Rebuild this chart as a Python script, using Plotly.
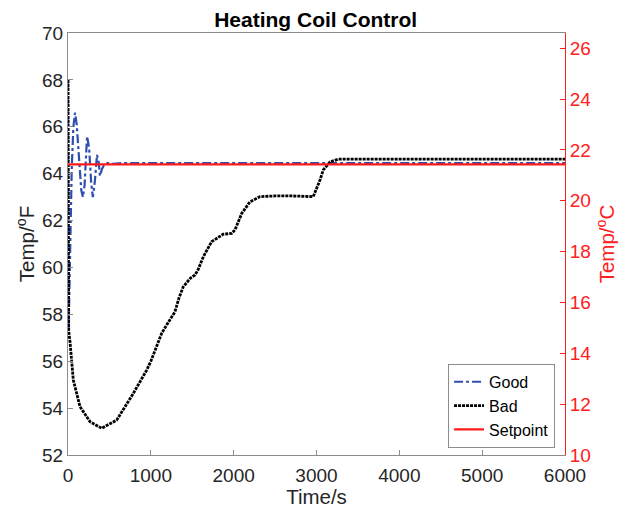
import plotly.graph_objects as go

# ---- data ----
good_t = [0, 8, 25, 45, 65, 85, 105, 130, 160, 180, 200, 230, 255, 280, 300, 325, 350, 370, 386,
          410, 440, 480, 550, 650, 800, 1000, 1500, 2000, 2500, 3000, 3500, 4000, 4500, 5000, 5500, 6000]
good_T = [68.0, 57.4, 60.5, 64.2, 66.0, 66.6, 66.1, 64.6, 63.3, 63.0, 63.5, 65.6, 65.1, 63.6, 63.0, 63.7, 64.8, 64.5, 63.9,
          64.2, 64.4, 64.45, 64.42, 64.45, 64.45, 64.45, 64.45, 64.45, 64.45, 64.45, 64.45, 64.45, 64.45, 64.45, 64.45, 64.45]

bad_t = [0, 8, 24, 64, 145, 266, 407, 588, 789, 950, 1000, 1131, 1200, 1252, 1290, 1340, 1392, 1480, 1533, 1570,
         1634, 1734, 1875, 1976, 2016, 2097, 2197, 2318, 2500, 2700, 2961, 3042, 3082, 3163, 3263,
         3500, 4000, 4500, 5000, 5500, 6000]
bad_T = [68.0, 57.3, 56.83, 55.2, 54.06, 53.42, 53.14, 53.49, 54.63, 55.62, 56.0, 57.19, 57.6, 57.9, 58.1, 58.7, 59.18, 59.55, 59.68, 59.9,
         60.46, 61.1, 61.42, 61.45, 61.6, 62.3, 62.8, 63.02, 63.05, 63.05, 63.02, 63.73, 64.16, 64.5, 64.62,
         64.62, 64.62, 64.62, 64.62, 64.62, 64.62]

set_t = [0, 6000]
set_T = [64.4, 64.4]

x_ticks = [0, 1000, 2000, 3000, 4000, 5000, 6000]
yF_ticks = [52, 54, 56, 58, 60, 62, 64, 66, 68, 70]
yC_ticks = [10, 12, 14, 16, 18, 20, 22, 24, 26]

FONT = "Liberation Sans, Arial, sans-serif"
GRAY = "#8c8c8c"
RED = "#ff2020"
TXT = "#262626"

fig = go.Figure()
fig.add_trace(go.Scatter(x=good_t, y=good_T, name="Good", mode="lines",
                         line=dict(color="#2f4fb0", width=2.2, dash="dashdot")))
fig.add_trace(go.Scatter(x=bad_t, y=bad_T, name="Bad", mode="lines",
                         line=dict(color="black", width=2.8, dash="3px,1px")))
fig.add_trace(go.Scatter(x=set_t, y=set_T, name="Setpoint", mode="lines",
                         line=dict(color="#ff1a1a", width=2.2)))
fig.add_trace(go.Scatter(x=[None], y=[None], yaxis="y2", showlegend=False, hoverinfo="skip"))

fig.update_layout(
    width=625, height=508,
    margin=dict(l=68, r=60, t=33, b=53),
    paper_bgcolor="white", plot_bgcolor="white",
    font=dict(family=FONT, size=19, color=TXT),
    showlegend=True,
    title=dict(text="<b>Heating Coil Control</b>", x=0.505, xanchor="center",
               yref="container", y=1 - 20 / 508, yanchor="middle",
               font=dict(size=21, color="black")),
    xaxis=dict(range=[0, 6000], tickvals=x_ticks, showgrid=False, zeroline=False,
               showline=True, linecolor=GRAY, linewidth=1, mirror=True, automargin=False,
               ticks="inside", ticklen=5, tickcolor=GRAY, ticklabelstandoff=3,
               title=dict(text="Time/s", standoff=2, font=dict(size=20.5, color=TXT)),
               tickfont=dict(size=19, color=TXT)),
    yaxis=dict(range=[52, 70], tickvals=yF_ticks, showgrid=False, zeroline=False,
               showline=True, linecolor=GRAY, linewidth=1, automargin=False,
               ticks="inside", ticklen=5, tickcolor=GRAY,
               title=dict(text="Temp/<sup>o</sup>F", standoff=1, font=dict(size=20.5, color=TXT)),
               tickfont=dict(size=19, color=TXT)),
    yaxis2=dict(range=[10, 26.6], tickvals=yC_ticks, overlaying="y", side="right",
                showgrid=False, zeroline=False, showline=True, linecolor=RED, linewidth=1,
                automargin=False, ticks="inside", ticklen=5, tickcolor=RED,
                tickfont=dict(size=19, color=RED),
                title=dict(text="Temp/<sup>o</sup>C", standoff=9, font=dict(size=20.5, color=RED))),
    legend=dict(x=0.98, xanchor="right", y=0.017, yanchor="bottom",
                bgcolor="white", bordercolor=GRAY, borderwidth=1,
                font=dict(size=16, color="black"), tracegroupgap=0, itemwidth=30),
)

fig.write_html("out.html")
